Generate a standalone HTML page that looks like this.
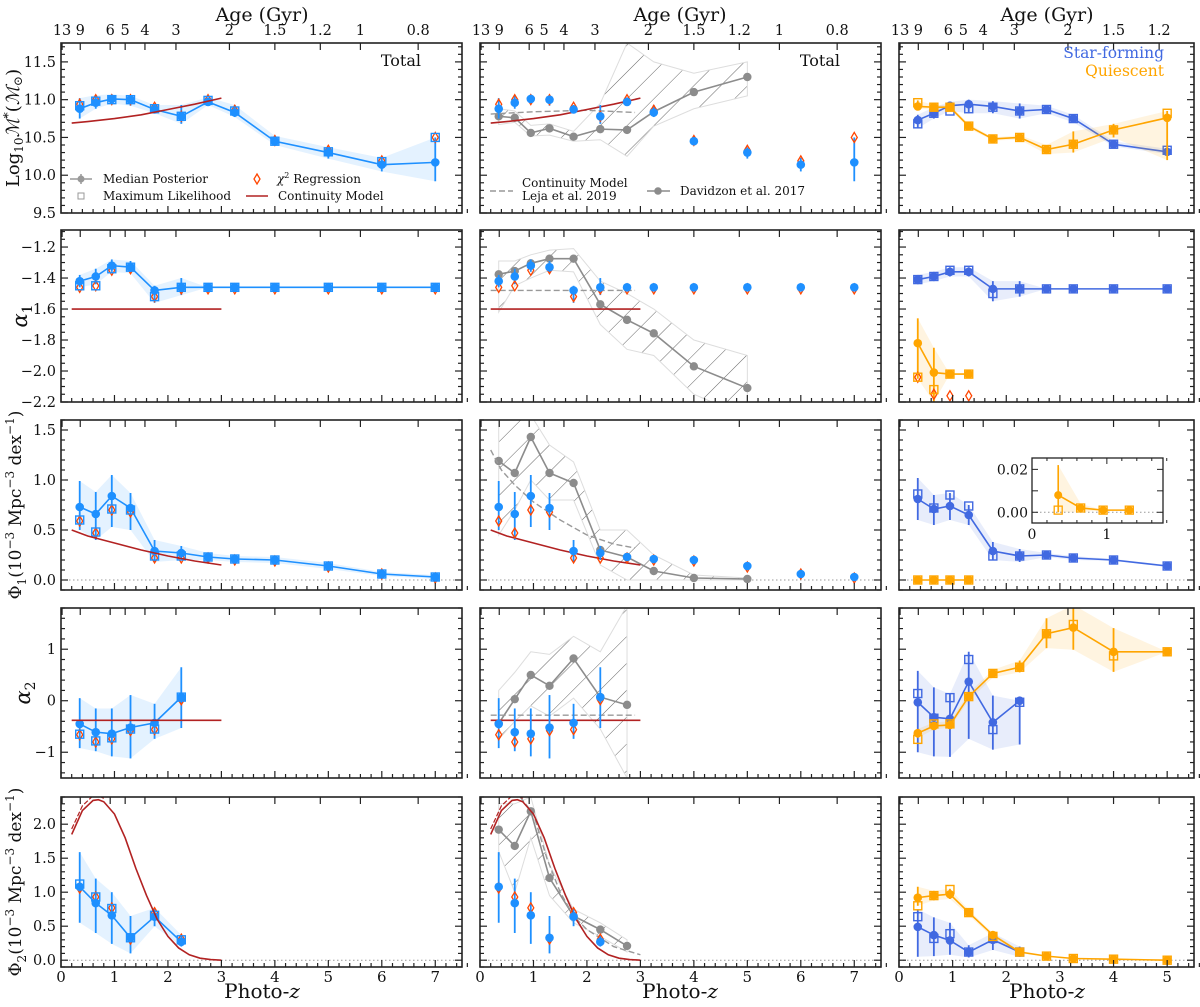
<!DOCTYPE html>
<html><head><meta charset="utf-8"><style>
html,body{margin:0;padding:0;background:#fff}
svg text{font-family:"DejaVu Serif","Liberation Serif",serif;fill:#111}
</style></head><body>
<svg id="chart" xmlns="http://www.w3.org/2000/svg" width="1200" height="1002" viewBox="0 0 1200 1002">
<defs>
<pattern id="hatch" patternUnits="userSpaceOnUse" width="19" height="19" patternTransform="rotate(45)">
<line x1="0" y1="0" x2="0" y2="19" stroke="#666" stroke-width="1"/>
</pattern>
</defs>
</svg>
<script>
// ---------- data ----------
const zT = [0.35,0.65,0.95,1.3,1.75,2.25,2.75,3.25,4,5,6,7];
const zD = [0.35,0.65,0.95,1.3,1.75,2.25,2.75,3.25,4,5];
// Total sample
const massMed = [10.88,10.96,11.01,11.0,10.87,10.78,10.97,10.83,10.45,10.30,10.14,10.17];
const massLo  = [10.75,10.88,10.95,10.92,10.82,10.68,10.93,10.77,10.40,10.22,10.05,9.92];
const massHi  = [11.02,11.06,11.07,11.05,10.93,10.93,11.03,10.93,10.52,10.37,10.23,10.50];
const massML  = [10.92,10.98,11.0,11.0,10.88,10.78,10.99,10.85,10.45,10.31,10.18,10.50];
const massChi = [10.94,11.0,11.0,11.0,10.9,10.78,11.0,10.86,10.46,10.33,10.19,10.5];
const a1Med = [-1.42,-1.39,-1.32,-1.33,-1.48,-1.46,-1.46,-1.46,-1.46,-1.46,-1.46,-1.46];
const a1Lo  = [-1.46,-1.44,-1.36,-1.37,-1.56,-1.51,-1.46,-1.46,-1.46,-1.46,-1.46,-1.46];
const a1Hi  = [-1.38,-1.34,-1.28,-1.29,-1.45,-1.40,-1.46,-1.46,-1.46,-1.46,-1.46,-1.46];
const a1ML  = [-1.45,-1.45,-1.34,-1.33,-1.52,-1.46,-1.46,-1.46,-1.46,-1.46,-1.46,-1.46];
const a1Chi = [-1.46,-1.45,-1.35,-1.34,-1.52,-1.47,-1.47,-1.47,-1.47,-1.47,-1.47,-1.47];
const p1Med = [0.73,0.66,0.84,0.72,0.29,0.27,0.23,0.21,0.20,0.14,0.06,0.03];
const p1Lo  = [0.50,0.40,0.53,0.50,0.18,0.20,0.20,0.18,0.17,0.11,0.04,0.01];
const p1Hi  = [0.99,0.88,1.05,0.87,0.40,0.34,0.27,0.24,0.23,0.17,0.08,0.05];
const p1ML  = [0.60,0.48,0.71,0.70,0.24,0.24,0.23,0.21,0.20,0.14,0.06,0.03];
const p1Chi = [0.59,0.47,0.70,0.68,0.22,0.22,0.22,0.20,0.19,0.13,0.06,0.02];
const a2Med = [-0.45,-0.61,-0.64,-0.52,-0.43,0.07];
const a2Lo  = [-0.92,-0.98,-1.08,-1.12,-0.74,-0.53];
const a2Hi  = [0.05,-0.15,-0.15,0.11,-0.06,0.65];
const a2ML  = [-0.65,-0.78,-0.72,-0.55,-0.55,0.07];
const a2Chi = [-0.66,-0.80,-0.74,-0.58,-0.56,0.02];
const p2Med = [1.08,0.84,0.66,0.33,0.64,0.27];
const p2Lo  = [0.55,0.40,0.24,0.10,0.50,0.20];
const p2Hi  = [1.59,1.20,1.00,0.65,0.77,0.37];
const p2ML  = [1.12,0.93,0.76,0.33,0.66,0.30];
const p2Chi = [1.06,0.93,0.77,0.31,0.70,0.31];
// Davidzon et al. 2017
const dMass = [10.78,10.76,10.56,10.62,10.51,10.61,10.60,10.84,11.10,11.30];
const dMassLo = [10.67,10.70,10.52,10.53,10.45,10.47,10.25,10.65,10.88,11.05];
const dMassHi = [10.88,10.85,10.66,10.68,10.58,10.95,11.75,11.5,11.35,11.5];
const dA1 = [-1.376,-1.355,-1.305,-1.275,-1.275,-1.57,-1.67,-1.757,-1.97,-2.11];
const dA1Lo = [-1.62,-1.45,-1.40,-1.35,-1.36,-1.70,-1.86,-1.90,-2.15,-2.3];
const dA1Hi = [-1.29,-1.29,-1.25,-1.22,-1.21,-1.42,-1.50,-1.60,-1.80,-1.90];
const dP1 = [1.19,1.07,1.43,1.07,0.97,0.30,0.23,0.09,0.02,0.01];
const dP1Lo = [0.45,0.70,1.00,0.80,0.80,0.15,0.0,0.0,0.0,0.0];
const dP1Hi = [1.65,1.65,1.65,1.35,1.18,0.5,0.5,0.25,0.05,0.02];
const dA2 = [-0.44,0.03,0.5,0.29,0.82,0.07,-0.08];
const dA2Lo = [-0.75,-0.4,-0.1,-0.3,0.05,-0.55,-1.5];
const dA2Hi = [0.2,0.55,0.95,0.9,1.25,0.95,1.85];
const dP2 = [1.92,1.68,2.19,1.21,0.65,0.45,0.21];
const dP2Lo = [1.6,1.0,1.8,0.95,0.55,0.35,0.12];
const dP2Hi = [2.3,2.3,2.4,1.4,0.75,0.55,0.3];
// Leja et al. 2019 continuity model (dashed)
const lejaZ1 = [0.2,1,2,2.9];       const lejaMass = [10.81,10.84,10.86,10.83];
const lejaZ2 = [0.2,2.9];           const lejaA1 = [-1.48,-1.48];
const lejaZ3 = [0.2,0.4,0.65,1,1.5,2,2.5,2.9]; const lejaP1 = [1.3,1.1,0.95,0.78,0.6,0.45,0.36,0.32];
const lejaZ4 = [0.2,2.9];           const lejaA2 = [-0.28,-0.28];
const lejaZ5 = [0.75,1,1.25,1.5,1.75,2,2.5,3]; const lejaP2 = [2.4,2.15,1.5,1.0,0.65,0.45,0.2,0.08];
// Continuity model (red)
const contZ1 = [0.2,0.5,1,1.5,2,2.5,3]; const contMass = [10.69,10.71,10.75,10.8,10.87,10.94,11.02];
const contZ2 = [0.2,3];                 const contA1 = [-1.6,-1.6];
const contZ3 = [0.2,0.5,1,1.5,2,2.5,3]; const contP1 = [0.5,0.44,0.37,0.3,0.24,0.19,0.15];
const contZ4 = [0.2,3];                 const contA2 = [-0.38,-0.38];
const contZ5 = [0.2,0.4,0.6,0.7,0.8,1.0,1.2,1.4,1.6,1.8,2.0,2.2,2.4,2.6,2.8,3.0];
const contP2 = [1.85,2.2,2.35,2.36,2.33,2.15,1.8,1.35,0.95,0.6,0.35,0.18,0.08,0.03,0.01,0.0];
const contZ5b = [0.2,0.4,0.6,0.7,0.8];
const contP2b = [1.93,2.27,2.42,2.42,2.38];
// Star-forming / Quiescent
const sfMass = [10.73,10.82,10.92,10.94,10.91,10.85,10.87,10.75,10.41,10.31];
const sfMassLo = [10.62,10.75,10.85,10.82,10.82,10.75,10.82,10.70,10.38,10.28];
const sfMassHi = [10.80,10.90,10.97,11.00,10.98,10.95,10.92,10.80,10.45,10.35];
const sfMassML = [10.68,10.82,10.85,10.88,10.90,10.85,10.87,10.75,10.41,10.33];
const qMass = [10.91,10.9,10.9,10.65,10.48,10.5,10.34,10.41,10.6,10.76];
const qMassLo = [10.88,10.87,10.87,10.62,10.46,10.47,10.28,10.30,10.5,10.2];
const qMassHi = [10.99,10.93,10.93,10.68,10.50,10.53,10.40,10.58,10.68,10.85];
const qMassML = [10.96,10.9,10.9,10.65,10.48,10.5,10.34,10.41,10.6,10.82];
const sfA1 = [-1.41,-1.39,-1.36,-1.36,-1.47,-1.47,-1.47,-1.47,-1.47,-1.47];
const sfA1Lo = [-1.44,-1.42,-1.39,-1.39,-1.55,-1.52,-1.47,-1.47,-1.47,-1.47];
const sfA1Hi = [-1.38,-1.36,-1.33,-1.33,-1.42,-1.42,-1.47,-1.47,-1.47,-1.47];
const sfA1ML = [-1.41,-1.39,-1.35,-1.35,-1.50,-1.47,-1.47,-1.47,-1.47,-1.47];
const qA1 = [-1.82,-2.01,-2.02,-2.02];
const qA1Lo = [-2.05,-2.2,-2.02,-2.02];
const qA1Hi = [-1.66,-1.85,-2.02,-2.02];
const qA1ML = [-2.04,-2.12,-2.02,-2.02];
const qA1Chi = [-2.04,-2.15,-2.16,-2.16];
const sfP1 = [0.81,0.71,0.74,0.65,0.29,0.24,0.25,0.22,0.2,0.14];
const sfP1Lo = [0.6,0.55,0.6,0.55,0.2,0.18,0.23,0.2,0.19,0.13];
const sfP1Hi = [1.02,0.85,0.87,0.75,0.38,0.31,0.27,0.24,0.21,0.15];
const sfP1ML = [0.86,0.72,0.85,0.74,0.24,0.24,0.25,0.22,0.2,0.14];
const qP1 = [0,0,0,0];
const qInset = [0.008,0.002,0.001,0.001];
const qInsetLo = [0.0,0.0,0.001,0.001];
const qInsetHi = [0.022,0.004,0.001,0.001];
const qInsetML = [0.001,0.002,0.001,0.001];
const sfA2 = [-0.03,-0.32,-0.35,0.37,-0.42,0.0];
const sfA2Lo = [-1.0,-1.08,-1.09,-0.74,-0.95,-0.85];
const sfA2Hi = [0.58,0.26,0.13,0.95,0.1,0.0];
const sfA2ML = [0.14,-0.34,0.06,0.8,-0.56,-0.03];
const qA2 = [-0.63,-0.49,-0.47,0.08,0.53,0.65,1.3,1.42,0.95,0.95];
const qA2Lo = [-0.72,-0.56,-0.52,0.0,0.45,0.55,1.02,0.99,0.56,0.95];
const qA2Hi = [-0.55,-0.42,-0.4,0.15,0.6,0.78,1.6,1.86,1.41,0.95];
const qA2ML = [-0.75,-0.45,-0.45,0.08,0.53,0.65,1.3,1.48,0.87,0.95];
const sfP2 = [0.49,0.37,0.29,0.12,0.3,0.12];
const sfP2Lo = [0.05,0.06,0.08,0.04,0.15,0.05];
const sfP2Hi = [0.75,0.63,0.55,0.22,0.4,0.2];
const sfP2ML = [0.64,0.32,0.39,0.12,0.32,0.12];
const qP2 = [0.92,0.95,0.97,0.7,0.37,0.12,0.06,0.025,0.015,0.0];
const qP2Lo = [0.8,0.88,0.9,0.66,0.33,0.1,0.05,0.02,0.01,0.0];
const qP2Hi = [1.08,1.02,1.05,0.74,0.4,0.14,0.07,0.03,0.02,0.0];
const qP2ML = [0.8,0.95,1.04,0.7,0.35,0.12,0.06,0.025,0.015,0.0];
// axis ticks
const ageLabels = ['13','9','6','5','4','3','2','1.5','1.2','1','0.8'];
const ageZ = [0.02,0.36,0.92,1.2,1.57,2.15,3.15,4.0,4.85,5.6,6.68];

// ---------- layout ----------
const SVGNS = 'http://www.w3.org/2000/svg';
const svg = document.getElementById('chart');
const COLS = [{x0:61,x1:462,zmax:7.5},{x0:480,x1:881,zmax:7.5},{x0:899,x1:1194,zmax:5.5}];
const ROWS = [
 {y0:43,y1:213,min:9.5,max:11.75,major:0.5,minor:0.1,labels:[9.5,10.0,10.5,11.0,11.5],dec:1},
 {y0:230,y1:402,min:-2.2,max:-1.09,major:0.2,minor:0.05,labels:[-2.2,-2.0,-1.8,-1.6,-1.4,-1.2],dec:1},
 {y0:420,y1:590,min:-0.1,max:1.6,major:0.5,minor:0.1,labels:[0.0,0.5,1.0,1.5],dec:1},
 {y0:608,y1:778,min:-1.5,max:1.8,major:1,minor:0.2,labels:[-1,0,1],dec:0},
 {y0:797,y1:967,min:-0.1,max:2.4,major:0.5,minor:0.1,labels:[0.0,0.5,1.0,1.5,2.0],dec:1}
];
const BLUE='#1e90ff', SF='#4169e1', Q='#ffa500', CHI='#ff4500', RED='#b22222', GRAY='#8c8c8c';

function mk(tag, attrs, parent, name){
  const el = document.createElementNS(SVGNS, tag);
  for (const k in attrs) el.setAttribute(k, attrs[k]);
  
  
  (parent||svg).appendChild(el);
  return el;
}
function fmt(v,d){ const s=Math.abs(v).toFixed(d); return (v<-1e-9?'\u2212':'')+s; }

function makePanel(ci, ri){
  const c=COLS[ci], r=ROWS[ri];
  const sx = z => c.x0 + z/c.zmax*(c.x1-c.x0);
  const sy = v => r.y1 - (v-r.min)/(r.max-r.min)*(r.y1-r.y0);
  const g = mk('g', {}, svg, 'panel-r'+(ri+1)+'-c'+(ci+1));
  const cid = 'clip'+ci+ri;
  const cp = mk('clipPath', {id:cid}, svg, 'panel-clip');
  mk('rect', {x:c.x0, y:r.y0, width:c.x1-c.x0, height:r.y1-r.y0}, cp, 'clip-rect');
  const plot = mk('g', {'clip-path':'url(#'+cid+')'}, g, 'plot-area');
  return {c, r, sx, sy, g, plot, ci, ri};
}

function drawAxes(p){
  const {c, r, sx, sy, g, ci, ri} = p;
  const ax = mk('g', {stroke:'#222','stroke-width':1.2}, g, 'axis-ticks');
  for (let i=0; i<=Math.round(c.zmax/0.2); i++){
    const z=i*0.2; const x=sx(z); const maj = Math.abs(z-Math.round(z))<1e-6;
    const L = maj?7:4;
    mk('line', {x1:x, x2:x, y1:r.y1, y2:r.y1-L}, ax, maj?'x-major-tick':'x-minor-tick');
    if (maj && ri===4){
      const t = mk('text', {x:x, y:r.y1+15, 'text-anchor':'middle','font-size':15}, g, 'x-tick-label');
      t.textContent = String(Math.round(z));
    }
  }
  ageZ.forEach((z,i)=>{
    if (z>c.zmax) return;
    const x=sx(z);
    mk('line', {x1:x, x2:x, y1:r.y0, y2:r.y0+7}, ax, 'age-tick');
    if (ri===0){
      const t = mk('text', {x:x, y:r.y0-8, 'text-anchor':'middle','font-size':14.5}, g, 'age-tick-label');
      t.textContent = ageLabels[i];
    }
  });
  const nmin = Math.ceil((r.min-1e-9)/r.minor), nmax=Math.floor((r.max+1e-9)/r.minor);
  for (let n=nmin; n<=nmax; n++){
    const v=n*r.minor; const y=sy(v);
    const maj = Math.abs(v/r.major-Math.round(v/r.major))<1e-6;
    const L = maj?7:4;
    mk('line', {x1:c.x0, x2:c.x0+L, y1:y, y2:y}, ax, 'y-tick-left');
    mk('line', {x1:c.x1, x2:c.x1-L, y1:y, y2:y}, ax, 'y-tick-right');
  }
  if (ci===0){
    r.labels.forEach(v=>{
      const t = mk('text', {x:c.x0-5, y:sy(v)+5, 'text-anchor':'end','font-size':14.5}, g, 'y-tick-label');
      t.textContent = fmt(v, r.dec);
    });
  }
  mk('rect', {x:c.x0, y:r.y0, width:c.x1-c.x0, height:r.y1-r.y0, fill:'none', stroke:'#222','stroke-width':1.6}, g, 'panel-frame');
}

function band(p, zs, lo, hi, fill, op, name){
  let d='';
  zs.forEach((z,i)=>{ d += (i?'L':'M')+p.sx(z)+','+p.sy(hi[i]); });
  for (let i=zs.length-1;i>=0;i--) d += 'L'+p.sx(zs[i])+','+p.sy(lo[i]);
  return mk('path', {d:d+'Z', fill:fill, 'fill-opacity':op, stroke:'none'}, p.plot, name);
}
function line(p, zs, vs, color, w, dash, name){
  const pts = zs.map((z,i)=>p.sx(z)+','+p.sy(vs[i])).join(' ');
  const a = {points:pts, fill:'none', stroke:color, 'stroke-width':w};
  if (dash) a['stroke-dasharray']=dash;
  return mk('polyline', a, p.plot, name);
}
function errbars(p, zs, lo, hi, color, name){
  zs.forEach((z,i)=>{ mk('line', {x1:p.sx(z), x2:p.sx(z), y1:p.sy(lo[i]), y2:p.sy(hi[i]), stroke:color, 'stroke-width':1.8}, p.plot, name); });
}
function circles(p, zs, vs, color, rad, name){
  zs.forEach((z,i)=>{ mk('circle', {cx:p.sx(z), cy:p.sy(vs[i]), r:rad, fill:color}, p.plot, name); });
}
function squares(p, zs, vs, color, name){
  zs.forEach((z,i)=>{ mk('rect', {x:p.sx(z)-4, y:p.sy(vs[i])-4, width:8, height:8, fill:'none', stroke:color, 'stroke-width':1.4}, p.plot, name); });
}
function diamonds(p, zs, vs, color, name){
  zs.forEach((z,i)=>{ const x=p.sx(z), y=p.sy(vs[i]);
    mk('polygon', {points:`${x},${y-5} ${x+3},${y} ${x},${y+5} ${x-3},${y}`, fill:'none', stroke:color, 'stroke-width':1.3}, p.plot, name); });
}
function zeroLine(p){
  mk('line', {x1:p.c.x0, x2:p.c.x1, y1:p.sy(0), y2:p.sy(0), stroke:'#999', 'stroke-width':1, 'stroke-dasharray':'1.5,2.5'}, p.plot, 'zero-reference-line');
}
function full(p, zs, med, lo, hi, ml, chi, color, bandColor, connect){
  const n = med.length; const zz = zs.slice(0,n);
  if (bandColor) band(p, zz, lo, hi, bandColor, 0.12, 'uncertainty-band');
  if (connect) line(p, zz, med, color, 1.6, null, 'median-line');
  errbars(p, zz, lo, hi, color, 'error-bar');
  if (chi) diamonds(p, zz, chi, CHI, 'chi2-marker');
  if (ml) squares(p, zz, ml, color, 'max-likelihood-marker');
  circles(p, zz, med, color, 4.3, 'median-marker');
}
function davidzon(p, zs, med, lo, hi){
  const n = med.length; const zz = zs.slice(0,n);
  band(p, zz, lo, hi, 'url(#hatch)', 1, 'davidzon-hatched-band').setAttribute('stroke','#ddd');
  line(p, zz, med, GRAY, 1.6, null, 'davidzon-line');
  circles(p, zz, med, GRAY, 4.2, 'davidzon-marker');
}

const medsT=[massMed,a1Med,p1Med,a2Med,p2Med], losT=[massLo,a1Lo,p1Lo,a2Lo,p2Lo], hisT=[massHi,a1Hi,p1Hi,a2Hi,p2Hi];
const mlsT=[massML,a1ML,p1ML,a2ML,p2ML], chisT=[massChi,a1Chi,p1Chi,a2Chi,p2Chi];
const contZs=[contZ1,contZ2,contZ3,contZ4,contZ5], contVs=[contMass,contA1,contP1,contA2,contP2];
const lejaZs=[lejaZ1,lejaZ2,lejaZ3,lejaZ4,lejaZ5], lejaVs=[lejaMass,lejaA1,lejaP1,lejaA2,lejaP2];
const dMeds=[dMass,dA1,dP1,dA2,dP2], dLos=[dMassLo,dA1Lo,dP1Lo,dA2Lo,dP2Lo], dHis=[dMassHi,dA1Hi,dP1Hi,dA2Hi,dP2Hi];
const sfMeds=[sfMass,sfA1,sfP1,sfA2,sfP2], sfLos=[sfMassLo,sfA1Lo,sfP1Lo,sfA2Lo,sfP2Lo], sfHis=[sfMassHi,sfA1Hi,sfP1Hi,sfA2Hi,sfP2Hi], sfMLs=[sfMassML,sfA1ML,sfP1ML,sfA2ML,sfP2ML];
const qMeds=[qMass,qA1,qP1,qA2,qP2], qLos=[qMassLo,qA1Lo,qP1,qA2Lo,qP2Lo], qHis=[qMassHi,qA1Hi,qP1,qA2Hi,qP2Hi], qMLs=[qMassML,qA1ML,qP1,qA2ML,qP2ML];

for (let ri=0; ri<5; ri++){
  let p = makePanel(0, ri);
  if (ri===2||ri===4) zeroLine(p);
  full(p, zT, medsT[ri], losT[ri], hisT[ri], mlsT[ri], chisT[ri], BLUE, BLUE, true);
  line(p, contZs[ri], contVs[ri], RED, 1.6, null, 'continuity-model-line');
  if (ri===4) line(p, contZ5b, contP2b, RED, 1.2, '5,2', 'continuity-model-line-alt');
  drawAxes(p);
  p = makePanel(1, ri);
  if (ri===2||ri===4) zeroLine(p);
  davidzon(p, zD, dMeds[ri], dLos[ri], dHis[ri]);
  line(p, lejaZs[ri], lejaVs[ri], '#999', 1.4, '6,3', 'leja-continuity-line');
  line(p, contZs[ri], contVs[ri], RED, 1.6, null, 'continuity-model-line');
  if (ri===4) line(p, contZ5b, contP2b, RED, 1.2, '5,2', 'continuity-model-line-alt');
  full(p, zT, medsT[ri], losT[ri], hisT[ri], null, chisT[ri], BLUE, null, false);
  drawAxes(p);
  p = makePanel(2, ri);
  if (ri===2||ri===4) zeroLine(p);
  full(p, zD, sfMeds[ri], sfLos[ri], sfHis[ri], sfMLs[ri], null, SF, SF, true);
  full(p, zD, qMeds[ri], qLos[ri], qHis[ri], qMLs[ri], ri===1?qA1Chi:null, Q, Q, true);
  drawAxes(p);
}

(function(){
  const ix0=1032, ix1=1163, iy0=458, iy1=523, zmax=1.75, vmin=-0.005, vmax=0.0253;
  const sx = z=> ix0 + z/zmax*(ix1-ix0);
  const sy = v=> iy1 - (v-vmin)/(vmax-vmin)*(iy1-iy0);
  const g = mk('g', {}, svg, 'phi1-quiescent-inset');
  mk('rect', {x:ix0, y:iy0, width:ix1-ix0, height:iy1-iy0, fill:'#fff'}, g, 'inset-background');
  mk('line', {x1:ix0, x2:ix1, y1:sy(0), y2:sy(0), stroke:'#999','stroke-dasharray':'1.5,2.5'}, g, 'inset-zero-line');
  const zz = zD.slice(0,4);
  let d=''; zz.forEach((z,i)=>{ d+=(i?'L':'M')+sx(z)+','+sy(qInsetHi[i]); });
  for(let i=3;i>=0;i--) d+='L'+sx(zz[i])+','+sy(qInsetLo[i]);
  mk('path', {d:d+'Z', fill:Q, 'fill-opacity':0.12}, g, 'inset-band');
  mk('polyline', {points:zz.map((z,i)=>sx(z)+','+sy(qInset[i])).join(' '), fill:'none', stroke:Q,'stroke-width':1.6}, g, 'inset-line');
  zz.forEach((z,i)=>{
    mk('line', {x1:sx(z), x2:sx(z), y1:sy(qInsetLo[i]), y2:sy(qInsetHi[i]), stroke:Q,'stroke-width':1.6}, g, 'inset-error-bar');
    mk('rect', {x:sx(z)-4, y:sy(qInsetML[i])-4, width:8, height:8, fill:'none', stroke:Q,'stroke-width':1.3}, g, 'inset-ml-marker');
    mk('circle', {cx:sx(z), cy:sy(qInset[i]), r:4, fill:Q}, g, 'inset-median-marker');
  });
  const tk = mk('g', {stroke:'#222','stroke-width':1}, g, 'inset-ticks');
  for (let i=0;i<=Math.round(zmax/0.2);i++){ const z=i*0.2, maj=Math.abs(z-Math.round(z))<1e-6, x=sx(z);
    mk('line', {x1:x,x2:x,y1:iy1,y2:iy1-(maj?6:3)}, tk, 'inset-x-tick');
    mk('line', {x1:x,x2:x,y1:iy0,y2:iy0+(maj?6:3)}, tk, 'inset-x-tick-top');
    if (maj){ const t=mk('text',{x:x,y:iy1+16,'text-anchor':'middle','font-size':14}, g, 'inset-x-label'); t.textContent=String(Math.round(z)); }
  }
  [0,0.01,0.02].forEach(v=>{ mk('line',{x1:ix0,x2:ix0+6,y1:sy(v),y2:sy(v)}, tk, 'inset-y-tick'); mk('line',{x1:ix1,x2:ix1-6,y1:sy(v),y2:sy(v)}, tk, 'inset-y-tick-right'); });
  [0,0.02].forEach(v=>{ const t=mk('text',{x:ix0-4,y:sy(v)+5,'text-anchor':'end','font-size':14}, g, 'inset-y-label'); t.textContent=v.toFixed(2); });
  mk('rect', {x:ix0, y:iy0, width:ix1-ix0, height:iy1-iy0, fill:'none', stroke:'#222','stroke-width':1.3}, g, 'inset-frame');
})();
</script>

<svg style="position:absolute;left:0;top:0" width="1200" height="1002" xmlns="http://www.w3.org/2000/svg">
 <text x="262" y="21" text-anchor="middle" font-size="19">Age (Gyr)</text>
 <text x="680" y="21" text-anchor="middle" font-size="19">Age (Gyr)</text>
 <text x="1047" y="21" text-anchor="middle" font-size="19">Age (Gyr)</text>
 <text x="262" y="998" text-anchor="middle" font-size="20">Photo-<tspan font-style="italic">z</tspan></text>
 <text x="680" y="998" text-anchor="middle" font-size="20">Photo-<tspan font-style="italic">z</tspan></text>
 <text x="1047" y="998" text-anchor="middle" font-size="20">Photo-<tspan font-style="italic">z</tspan></text>
 <text transform="translate(19,128) rotate(-90)" text-anchor="middle" font-size="18">Log<tspan font-size="12" dy="4">10</tspan><tspan dy="-4" font-style="italic">ℳ</tspan><tspan font-size="12" dy="-7">*</tspan><tspan dy="7">(</tspan><tspan font-style="italic">ℳ</tspan><tspan font-size="12" dy="3">⊙</tspan><tspan dy="-3">)</tspan></text>
 <text transform="translate(27,316) rotate(-90)" text-anchor="middle" font-size="21" font-style="italic">α<tspan font-size="14" dy="5" font-style="normal">1</tspan></text>
 <text transform="translate(21,505) rotate(-90)" text-anchor="middle" font-size="17">Φ<tspan font-size="12" dy="5">1</tspan><tspan dy="-5">(10</tspan><tspan font-size="12" dy="-7">−3</tspan><tspan dy="7"> Mpc</tspan><tspan font-size="12" dy="-7">−3</tspan><tspan dy="7"> dex</tspan><tspan font-size="12" dy="-7">−1</tspan><tspan dy="7">)</tspan></text>
 <text transform="translate(30,693) rotate(-90)" text-anchor="middle" font-size="21" font-style="italic">α<tspan font-size="14" dy="5" font-style="normal">2</tspan></text>
 <text transform="translate(21,882) rotate(-90)" text-anchor="middle" font-size="17">Φ<tspan font-size="12" dy="5">2</tspan><tspan dy="-5">(10</tspan><tspan font-size="12" dy="-7">−3</tspan><tspan dy="7"> Mpc</tspan><tspan font-size="12" dy="-7">−3</tspan><tspan dy="7"> dex</tspan><tspan font-size="12" dy="-7">−1</tspan><tspan dy="7">)</tspan></text>
 <text x="421" y="66" text-anchor="end" font-size="16">Total</text>
 <text x="840" y="66" text-anchor="end" font-size="16">Total</text>
 <text x="1164" y="58" text-anchor="end" font-size="15.5" style="fill:#4169e1">Star-forming</text>
 <text x="1164" y="76" text-anchor="end" font-size="15.5" style="fill:#ffa500">Quiescent</text>
 <g>
  <line x1="70" y1="179" x2="92" y2="179" stroke="#999" stroke-width="1.5"/>
  <line x1="81" y1="174" x2="81" y2="184" stroke="#999" stroke-width="1.5"/>
  <circle cx="81" cy="179" r="3.5" fill="#999"/>
  <text x="103" y="183" font-size="12">Median Posterior</text>
  <rect x="78" y="193" width="6" height="6" fill="none" stroke="#999"/>
  <text x="103" y="200" font-size="12">Maximum Likelihood</text>
  <polygon points="257,174 260,179 257,184 254,179" fill="none" stroke="#ff4500" stroke-width="1.3"/>
  <text x="277" y="183" font-size="12"><tspan font-style="italic">χ</tspan><tspan font-size="8" dy="-5">2</tspan><tspan dy="5"> Regression</tspan></text>
  <line x1="246" y1="196" x2="268" y2="196" stroke="#b22222" stroke-width="1.6"/>
  <text x="278" y="200" font-size="12">Continuity Model</text>
 </g>
 <g>
  <line x1="490" y1="191" x2="513" y2="191" stroke="#999" stroke-width="1.4" stroke-dasharray="6,3"/>
  <text x="522" y="187" font-size="12">Continuity Model</text>
  <text x="522" y="200" font-size="12">Leja et al. 2019</text>
  <line x1="647" y1="191" x2="670" y2="191" stroke="#8c8c8c" stroke-width="1.5"/>
  <circle cx="658" cy="191" r="3.8" fill="#8c8c8c"/>
  <text x="680" y="195" font-size="12">Davidzon et al. 2017</text>
 </g>
</svg>
</body></html>
